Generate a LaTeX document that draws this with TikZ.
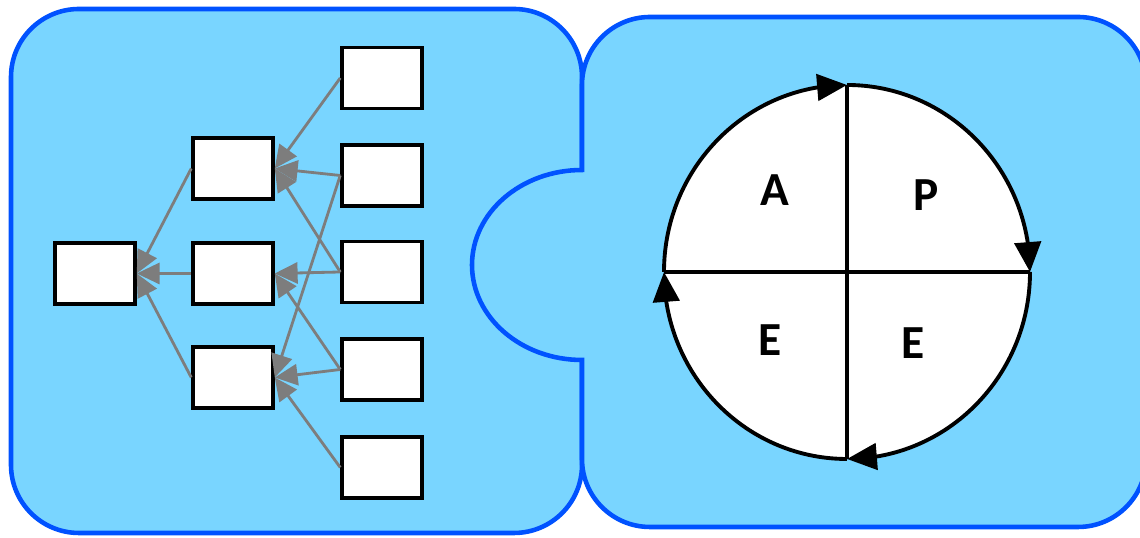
\documentclass[tikz,border=0pt]{standalone}
\usepackage{fontspec}
\setmainfont{Carlito}
\usetikzlibrary{arrows.meta,bending}
\definecolor{panelfill}{RGB}{121,213,255}
\definecolor{panelline}{RGB}{0,82,255}
\definecolor{linkgray}{RGB}{125,125,125}

\begin{document}
\begin{tikzpicture}[
    panel/.style={draw=panelline, fill=panelfill, line width=1.3pt},
    box/.style={rectangle, draw, line width=1pt, fill=white, minimum width=0.8cm, minimum height=0.61cm, inner sep=0pt},
    link/.style={-{Triangle[length=6.5pt,width=6pt]}, draw=linkgray, line width=0.8pt},
    turn/.style={-{Triangle[length=8.5pt,width=7.5pt]}, line width=1.1pt},
    phase/.style={font=\fontsize{13.5}{16}\selectfont\bfseries}
]
    \useasboundingbox (0,0) rectangle (11.4,5.38);

    % Left panel
    \draw[panel, rounded corners=0.68cm] (0.11,0.05) rectangle (5.82,5.29);

    % Right panel with its tab
    \draw[panel] (5.82,1.78) arc[start angle=270, end angle=90, x radius=1.10, y radius=0.95]
        -- (5.82,4.53) arc[start angle=180, end angle=90, radius=0.68]
        -- (10.78,5.21) arc[start angle=90, end angle=0, radius=0.68]
        -- (11.46,0.79) arc[start angle=0, end angle=-90, radius=0.68]
        -- (6.50,0.11) arc[start angle=270, end angle=180, radius=0.68]
        -- cycle;

    % Tree: root
    \node[box] (root) at (0.95,2.645) {};

    % Tree: middle level
    \node[box] (m1) at (2.33,3.695) {};
    \node[box] (m2) at (2.33,2.645) {};
    \node[box] (m3) at (2.33,1.605) {};

    % Tree: leaves
    \node[box] (l1) at (3.82,4.600) {};
    \node[box] (l2) at (3.82,3.625) {};
    \node[box] (l3) at (3.82,2.660) {};
    \node[box] (l4) at (3.82,1.685) {};
    \node[box] (l5) at (3.82,0.705) {};

    % Links
    \foreach \m in {1,2,3} {
        \draw[link] (m\m.west) -- (root.east);
    }
    \foreach \l/\m in {1/1, 2/1, 3/1, 2/3, 3/2, 4/2, 4/3, 5/3} {
        \draw[link] (l\l.west) -- (m\m.east);
    }

    % Cycle
    \coordinate (c) at (8.47,2.66);
    \coordinate (cN) at (8.47,4.53);
    \coordinate (cS) at (8.47,0.79);
    \coordinate (cW) at (6.64,2.66);
    \coordinate (cE) at (10.30,2.66);
    \fill[white] (c) ellipse [x radius=1.83, y radius=1.87];
    \draw[line width=1.1pt] (cW) -- (cE);
    \draw[line width=1.1pt] (cN) -- (cS);
    \foreach \a in {180,90,0,-90} {
        \draw[turn, shift={(c)}] (\a:1.83 and 1.87) arc[start angle=\a, end angle=\a-90, x radius=1.83, y radius=1.87];
    }

    % Phases
    \node[phase] (act) at (7.75,3.48) {A};
    \node[phase] (plan) at (9.26,3.43) {P};
    \node[phase] (check) at (7.70,1.98) {E};
    \node[phase] (run) at (9.13,1.95) {E};

\end{tikzpicture}
\end{document}
